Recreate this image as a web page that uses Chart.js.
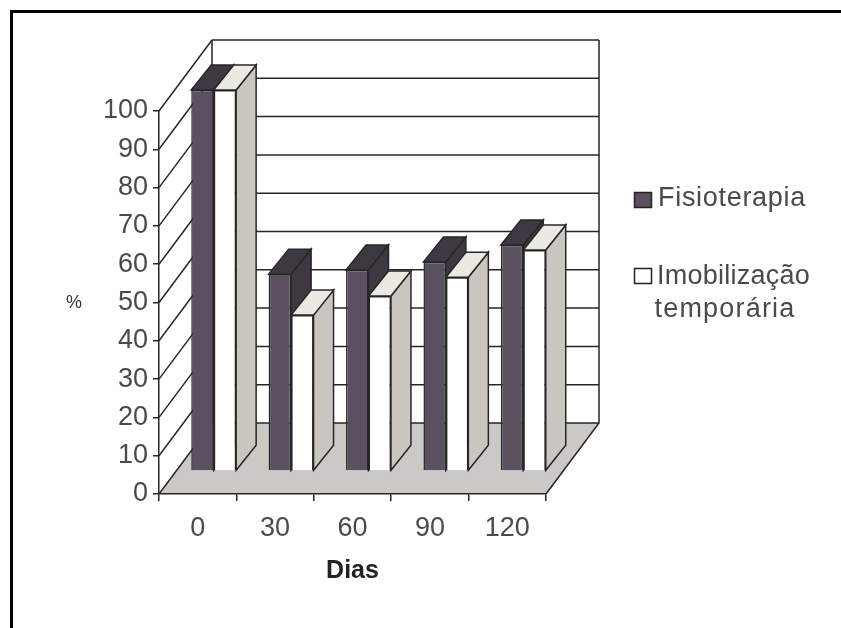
<!DOCTYPE html>
<html>
<head>
<meta charset="utf-8">
<style>
html,body{margin:0;padding:0;background:#fff;overflow:hidden}
#wrap{position:relative;width:841px;height:628px}
#c{position:absolute;left:0;top:0}
#frameTop{position:absolute;left:10px;top:10px;right:0;height:3px;background:#000}
#frameLeft{position:absolute;left:10px;top:10px;bottom:0;width:3px;background:#000}
</style>
<script src="https://cdn.jsdelivr.net/npm/chart.js@4"></script>
</head>
<body>
<div id="wrap">
<canvas id="c" width="841" height="628"></canvas>
<div id="frameTop"></div><div id="frameLeft"></div>
</div>
<script>
const categories = ['0','30','60','90','120'];
const seriesNames = ['Fisioterapia','Imobilização temporária'];
const fisioterapia = [99.5,51.4,52.5,54.6,59];
const imobilizacao = [99.5,40.7,45.7,50.6,57.7];
const yTitle = '%';
const xTitle = 'Dias';

const FONT = '"Liberation Sans", Arial, sans-serif';
const TXT = '#4a4a4a', LINE = '#262626';
const WALL = {dx:53, dy:-71};
const BAR = {ox:16, oy:-23, dx:20, dy:-25};
const FACES = [
  {front:'#5a5060', top:'#3d3842', side:'#3d3842'},
  {front:'#ffffff', top:'#ece9e3', side:'#c9c6bf'}
];

function poly(ctx, pts, fill, stroke){
  ctx.beginPath();
  pts.forEach((p,i)=> i ? ctx.lineTo(p[0],p[1]) : ctx.moveTo(p[0],p[1]));
  ctx.closePath();
  if(fill){ctx.fillStyle=fill;ctx.fill();}
  if(stroke){ctx.strokeStyle=stroke;ctx.lineWidth=1.5;ctx.stroke();}
}

const box3d = {
  id:'box3d',
  beforeDraw(chart){
    const {ctx,chartArea:a,scales:{y}} = chart;
    const d=WALL;
    ctx.save();
    poly(ctx,[[a.left,a.bottom],[a.right,a.bottom],[a.right+d.dx,a.bottom+d.dy],[a.left+d.dx,a.bottom+d.dy]],'#ccc8c5',null);
    ctx.strokeStyle=LINE;
    ctx.lineWidth=1.5;
    y.ticks.forEach(t=>{
      const py=y.getPixelForValue(t.value);
      ctx.beginPath();
      ctx.moveTo(a.left+d.dx,py+d.dy);ctx.lineTo(a.right+d.dx,py+d.dy);ctx.stroke();
      ctx.beginPath();
      ctx.moveTo(a.left,py);ctx.lineTo(a.left+d.dx,py+d.dy);ctx.stroke();
    });
    ctx.beginPath();
    ctx.moveTo(a.left+d.dx,a.top+d.dy);ctx.lineTo(a.left+d.dx,a.bottom+d.dy);
    ctx.moveTo(a.right+d.dx,a.top+d.dy);ctx.lineTo(a.right+d.dx,a.bottom+d.dy);
    ctx.lineTo(a.right,a.bottom);
    ctx.stroke();
    ctx.restore();
  },
  beforeDatasetsDraw(chart){
    const {ctx} = chart;
    ctx.save();
    ctx.translate(BAR.ox,BAR.oy);
    const metas=[chart.getDatasetMeta(0),chart.getDatasetMeta(1)];
    categories.forEach((_,i)=>{
      metas.forEach((m,k)=>{
        const b=m.data[i];
        const l=b.x-b.width/2,r=b.x+b.width/2,t=b.y,bs=b.base;
        const dx=BAR.dx,dy=BAR.dy;
        poly(ctx,[[r,t],[r+dx,t+dy],[r+dx,bs+dy],[r,bs]],FACES[k].side,LINE);
        poly(ctx,[[l,t],[l+dx,t+dy],[r+dx,t+dy],[r,t]],FACES[k].top,LINE);
      });
    });
  },
  afterDatasetsDraw(chart){
    chart.ctx.restore();
  },
  afterDraw(chart){
    const {ctx} = chart;
    ctx.save();
    ctx.fillStyle='#333';
    ctx.font='18px '+FONT;
    ctx.textAlign='center';ctx.textBaseline='middle';
    ctx.fillText(yTitle,74,303);
    ctx.font='27px '+FONT;
    ctx.strokeStyle='#222';ctx.lineWidth=1.5;
    const ds=chart.data.datasets;
    ctx.fillStyle=ds[0].backgroundColor;
    ctx.fillRect(634.5,192.5,17,15);ctx.strokeRect(634.5,192.5,17,15);
    ctx.fillStyle=ds[1].backgroundColor;
    ctx.fillRect(634.5,268.5,17,15);ctx.strokeRect(634.5,268.5,17,15);
    ctx.fillStyle=TXT;
    ctx.textAlign='left';
    ctx.letterSpacing='0.7px';
    ctx.fillText(seriesNames[0],658,199);
    const w=seriesNames[1].split(' ');
    ctx.letterSpacing='0.25px';
    ctx.fillText(w[0],657,277);
    ctx.textAlign='center';
    ctx.letterSpacing='1.2px';
    ctx.fillText(w[1],725,310);
    ctx.restore();
  }
};

new Chart(document.getElementById('c'),{
  type:'bar',
  data:{
    labels:categories,
    datasets:[
      {label:seriesNames[0],data:fisioterapia,backgroundColor:FACES[0].front,borderColor:LINE,borderWidth:1.5},
      {label:seriesNames[1],data:imobilizacao,backgroundColor:FACES[1].front,borderColor:LINE,borderWidth:1.5}
    ]
  },
  options:{
    responsive:false,
    animation:false,
    events:[],
    layout:{padding:{left:0,top:111,right:295,bottom:0}},
    plugins:{legend:{display:false},title:{display:false},tooltip:{enabled:false}},
    datasets:{bar:{categoryPercentage:0.58,barPercentage:1}},
    scales:{
      x:{
        type:'category',
        afterFit(s){s.height=134;},
        grid:{display:true,drawOnChartArea:false,color:LINE,lineWidth:1.5,tickLength:7,offset:true},
        border:{color:LINE,width:1.5},
        ticks:{color:TXT,font:{family:FONT,size:27},padding:11,maxRotation:0},
        title:{display:true,text:xTitle,color:'#222',font:{family:FONT,size:25,weight:'bold'},padding:{top:0,bottom:42}}
      },
      y:{
        type:'linear',min:0,max:100,
        afterFit(s){s.width=159;},
        grid:{display:true,drawOnChartArea:false,color:LINE,lineWidth:1.5,tickLength:6},
        border:{color:LINE,width:1.5},
        ticks:{stepSize:10,color:TXT,font:{family:FONT,size:27},padding:5}
      }
    }
  },
  plugins:[box3d]
});
</script>
</body>
</html>
